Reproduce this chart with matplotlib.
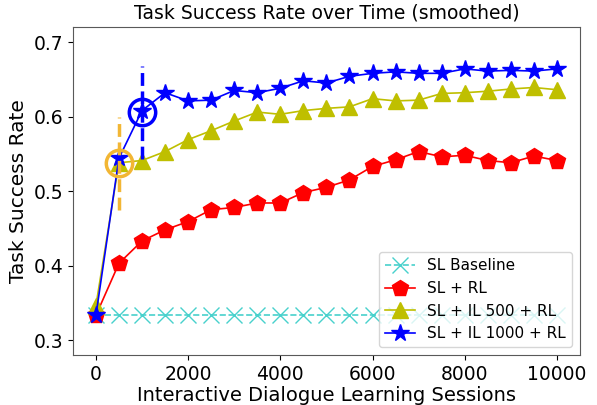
import numpy as np
from matplotlib import pyplot as plt

# sessions (x) e valores
sessoes = list(range(0, 10001, 500))

baseline = [0.333] * len(sessoes)

sl_rl = [0.333, 0.403, 0.433, 0.448, 0.459, 0.475, 0.478, 0.484, 0.484, 0.498, 0.505,
         0.515, 0.533, 0.542, 0.553, 0.546, 0.548, 0.541, 0.538, 0.547, 0.541]

il500 = [0.346, 0.538, 0.541, 0.553, 0.569, 0.581, 0.594, 0.606, 0.603, 0.608, 0.611,
         0.613, 0.624, 0.621, 0.622, 0.631, 0.632, 0.634, 0.637, 0.639, 0.636]

il1000 = [0.333, 0.544, 0.608, 0.632, 0.621, 0.622, 0.635, 0.632, 0.638, 0.648, 0.645,
          0.654, 0.658, 0.660, 0.658, 0.658, 0.664, 0.661, 0.662, 0.661, 0.664]

nomes = ["SL Baseline", "SL + RL", "SL + IL 500 + RL", "SL + IL 1000 + RL"]

# pontos destacados (circulos)
destaque_x = [500, 1000]
destaque_y = [0.537, 0.6055]

laranja = '#f2b634'

fig = plt.figure(figsize=(5.97, 4.05), dpi=100)
ax = fig.add_axes([0.122, 0.1235, 0.8495, 0.8095])

ax.plot(sessoes, baseline, '--x', color='mediumturquoise', markersize=12, linewidth=1.2, label=nomes[0])
ax.plot(sessoes, sl_rl, '-p', color='r', markersize=12, linewidth=1.2, label=nomes[1])
ax.plot(sessoes, il500, '-^', color='y', markersize=12, linewidth=1.2, label=nomes[2])
ax.plot(sessoes, il1000, '-*', color='b', markersize=13, linewidth=1.2, label=nomes[3])

# circulos e linhas tracejadas verticais
ax.plot(destaque_x[0], destaque_y[0], 'o', markersize=19, markerfacecolor='none', markeredgecolor=laranja, markeredgewidth=2.5)
ax.plot(destaque_x[1], destaque_y[1], 'o', markersize=19, markerfacecolor='none', markeredgecolor='b', markeredgewidth=2.5)
ax.plot([destaque_x[0], destaque_x[0]], [destaque_y[0] - 0.063, destaque_y[0] + 0.063], '--', color=laranja, linewidth=2.5)
ax.plot([destaque_x[1], destaque_x[1]], [destaque_y[1] - 0.063, destaque_y[1] + 0.063], '--', color='b', linewidth=2.5)

ax.set_xlim(-500, 10500)
ax.set_ylim(0.28, 0.72)
ax.set_xticks([0, 2000, 4000, 6000, 8000, 10000])
ax.set_yticks([0.3, 0.4, 0.5, 0.6, 0.7])
ax.tick_params(labelsize=13.5)
for s in ax.spines.values():
    s.set_color('0.35')

ax.set_xlabel("Interactive Dialogue Learning Sessions", fontsize=14, labelpad=2)
ax.set_ylabel("Task Success Rate", fontsize=14.5)
ax.set_title("Task Success Rate over Time (smoothed)", fontsize=13.5)
ax.legend(loc='lower right', fontsize=11)

plt.savefig('out.png', dpi=100)
